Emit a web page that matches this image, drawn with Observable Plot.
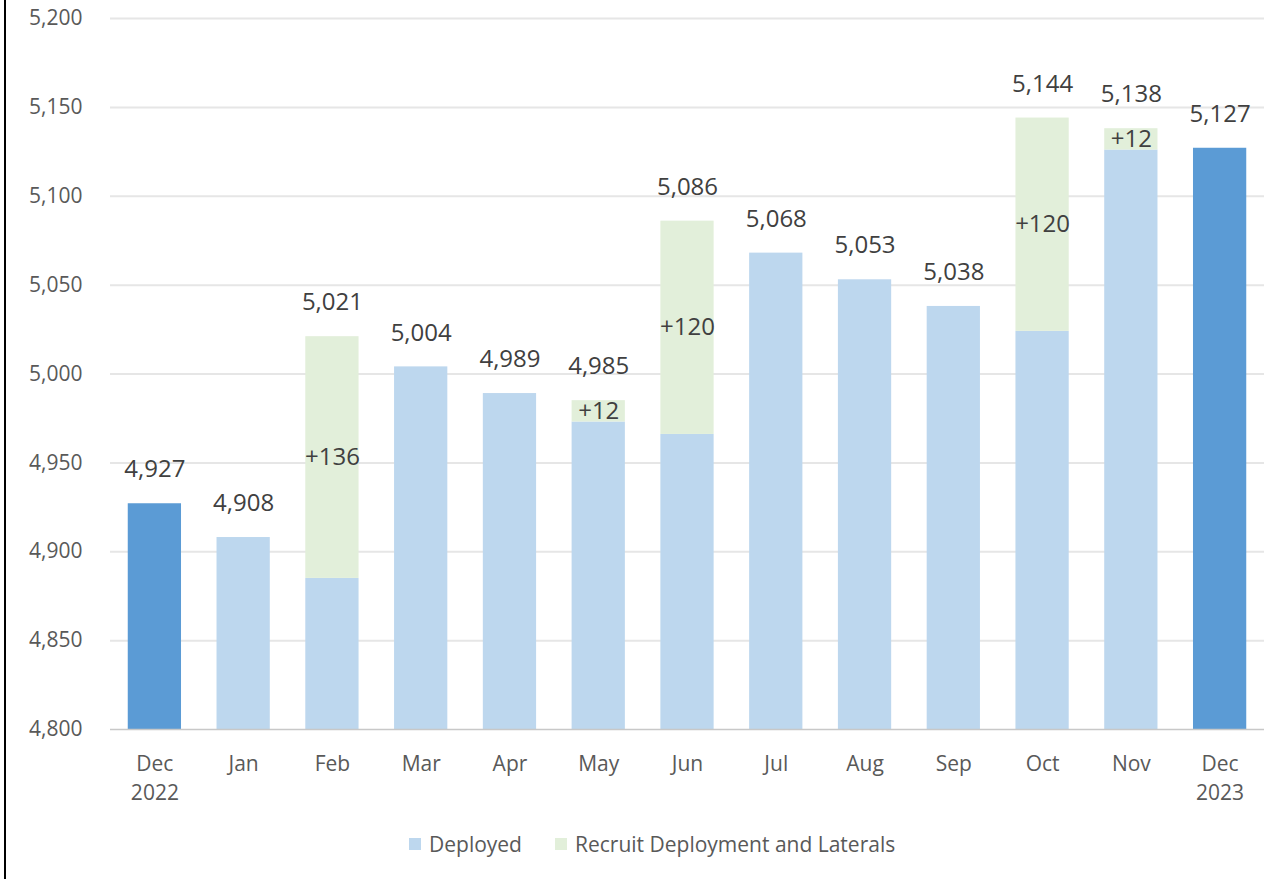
<!DOCTYPE html>
<html><head><meta charset="utf-8">
<script src="https://cdn.jsdelivr.net/npm/d3@7"></script>
<script src="https://cdn.jsdelivr.net/npm/@observablehq/plot@0.6"></script>
<style>
body{margin:0;background:#fff;font-family:"Open Sans",sans-serif;}
#wrap{position:relative;width:1286px;height:879px;overflow:hidden;background:#fff}
#edge{position:absolute;left:4px;top:0;width:2px;height:879px;background:#000}
#legend{position:absolute;left:409px;top:830px;display:flex;align-items:center;font-size:21px;color:#595959;font-family:"Open Sans",sans-serif}
#legend .sw{width:12px;height:12px;display:inline-block;margin-right:8px}
#legend .item{display:flex;align-items:center;margin-right:33px}
</style></head>
<body><div id="wrap"><div id="chart"></div><div id="edge"></div>
<div id="legend"><span class="item"><span class="sw" style="background:#BDD7EE"></span>Deployed</span><span class="item"><span class="sw" style="background:#E2EFDA"></span>Recruit Deployment and Laterals</span></div>
</div>
<script>
const months = ["Dec 2022","Jan","Feb","Mar","Apr","May","Jun","Jul","Aug","Sep","Oct","Nov","Dec 2023"];
const deployed = [4927,4908,4885,5004,4989,4973,4966,5068,5053,5038,5024,5126,5127];
const recruit = [0,0,136,0,0,12,120,0,0,0,120,12,0];
const isYearEnd = [true,false,false,false,false,false,false,false,false,false,false,false,true];
const yTicks = [4800,4850,4900,4950,5000,5050,5100,5150,5200];

const base = yTicks[0];
const rows = months.map((m,i)=>({month:m, deployed:deployed[i], recruit:recruit[i], total:deployed[i]+recruit[i], end:isYearEnd[i]}));
const fmt = d3.format(",");

const chart = Plot.plot({
  width:1286, height:819,
  marginLeft:110, marginRight:22, marginTop:18, marginBottom:90,
  style:{fontFamily:"'Open Sans', sans-serif", background:"transparent"},
  x:{domain:months, paddingInner:0.4, paddingOuter:0.2, round:false, label:null},
  y:{domain:[yTicks[0], yTicks[yTicks.length-1]], label:null},
  marks:[
    Plot.gridY(yTicks.slice(1), {stroke:"#E6E6E6", strokeOpacity:1, strokeWidth:2}),
    Plot.barY(rows, {x:"month", y1:()=>base, y2:"deployed", fill:d=>d.end?"#5B9BD5":"#BDD7EE"}),
    Plot.barY(rows.filter(r=>r.recruit>0), {x:"month", y1:"deployed", y2:"total", fill:"#E2EFDA"}),
    Plot.ruleY([base], {stroke:"#C8C8C8", strokeWidth:1.5}),
    Plot.text(rows, {x:"month", y:"total", dy:-34, text:d=>fmt(d.total), fontSize:24, fill:"#404040"}),
    Plot.text(rows.filter(r=>r.recruit>0), {x:"month", y:d=>(d.deployed+d.total)/2, text:d=>"+"+d.recruit, fontSize:24, fill:"#404040"}),
    Plot.axisY({ticks:yTicks, tickFormat:fmt, tickSize:0, tickPadding:28, fontSize:21, fill:"#595959", label:null}),
    Plot.axisX({tickFormat:d=>d.replace(" ","\n"), tickSize:0, tickPadding:21, fontSize:21, fill:"#595959", lineHeight:1.38, label:null})
  ]
});
document.getElementById("chart").appendChild(chart);
</script>
</body></html>
